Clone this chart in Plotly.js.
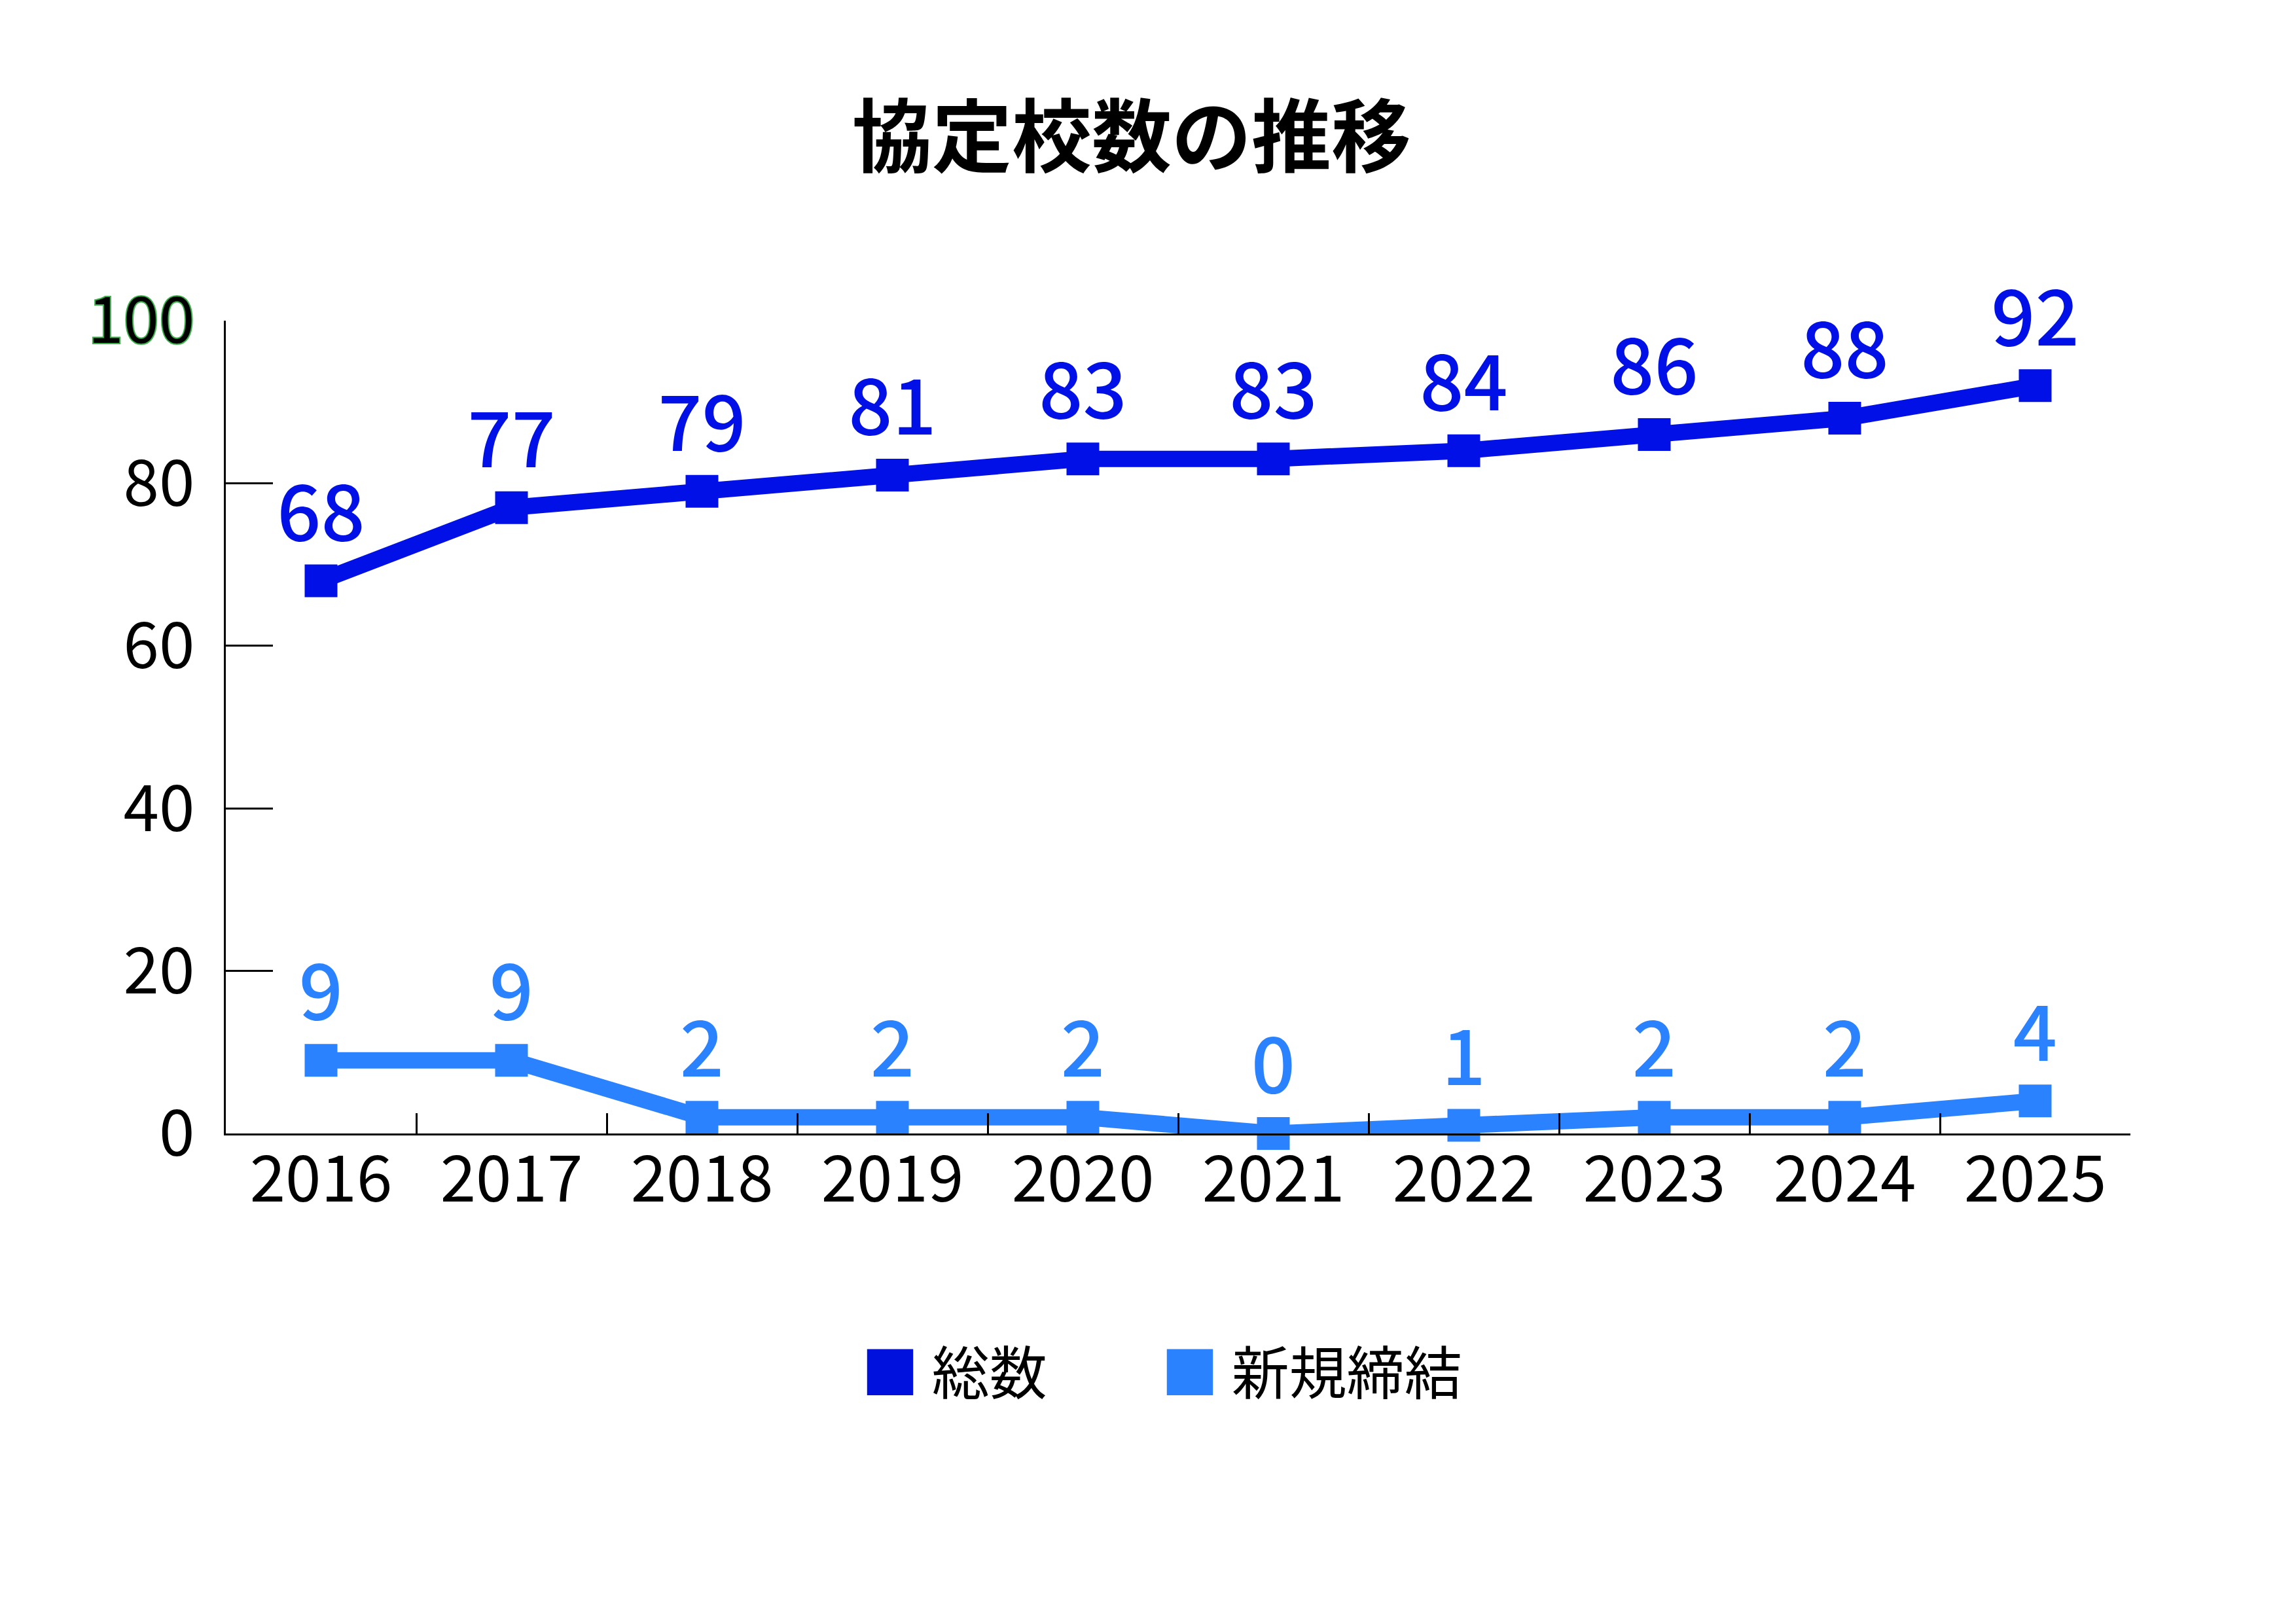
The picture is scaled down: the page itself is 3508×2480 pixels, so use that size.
<!DOCTYPE html>
<html>
<head>
<meta charset="utf-8">
<script src="https://cdn.plot.ly/plotly-3.0.1.min.js"></script>
<style>
  html, body { margin: 0; padding: 0; background: #ffffff; }
  #chart { width: 3508px; height: 2480px; }
</style>
</head>
<body>
<div id="chart"></div>
<script>
const years = ['2016', '2017', '2018', '2019', '2020', '2021', '2022', '2023', '2024', '2025'];
const totalCount = [68, 77, 79, 81, 83, 83, 84, 86, 88, 92];
const newCount = [9, 9, 2, 2, 2, 0, 1, 2, 2, 4];
const yTickVals = [0, 20, 40, 60, 80, 100];
const yTickText = ['0', '20', '40', '60', '80', '<span style="stroke:#3cb44b;stroke-width:4px;paint-order:stroke">100</span>'];
const seriesNames = ['総数', '新規締結'];
const titleText = '協定校数の推移';

const FONT = '"Noto Sans CJK JP", "Noto Sans", sans-serif';
const DARK = '#0010E6';
const LIGHT = '#2B82FF';
const DARK_LEGEND = '#0010DD';

const traces = [
  {
    type: 'scatter', mode: 'lines+markers+text',
    x: years, y: totalCount, name: seriesNames[0],
    text: totalCount.map(String), textposition: 'top center',
    textfont: { family: FONT, size: 118, color: DARK, weight: 500 },
    line: { color: DARK, width: 25 },
    marker: { symbol: 'square', size: 50, color: DARK },
    cliponaxis: false, showlegend: false, hoverinfo: 'skip'
  },
  {
    type: 'scatter', mode: 'lines+markers+text',
    x: years, y: newCount, name: seriesNames[1],
    text: newCount.map(String), textposition: 'top center',
    textfont: { family: FONT, size: 118, color: LIGHT, weight: 500 },
    line: { color: LIGHT, width: 25 },
    marker: { symbol: 'square', size: 50, color: LIGHT },
    cliponaxis: false, showlegend: false, hoverinfo: 'skip'
  },
  {
    type: 'scatter', mode: 'markers', x: [null], y: [null],
    name: '<span style="color:' + DARK_LEGEND + '">■</span> ' + seriesNames[0],
    marker: { color: 'rgba(0,0,0,0)', size: 2 }, showlegend: true, hoverinfo: 'skip',
    legendwidth: 413
  },
  {
    type: 'scatter', mode: 'markers', x: [null], y: [null],
    name: '<span style="color:' + LIGHT + '">■</span> ' + seriesNames[1],
    marker: { color: 'rgba(0,0,0,0)', size: 2 }, showlegend: true, hoverinfo: 'skip',
    legendwidth: 560
  }
];

const layout = {
  width: 3508, height: 2480,
  paper_bgcolor: '#ffffff', plot_bgcolor: '#ffffff',
  font: { family: FONT, color: '#000000' },
  margin: { l: 345, r: 253, t: 490, b: 748, pad: 0 },
  title: {
    text: titleText,
    font: { family: FONT, size: 122, color: '#000000', weight: 700 },
    xref: 'container', yref: 'container',
    x: 0.4929, xanchor: 'center', y: 0.9153, yanchor: 'middle'
  },
  xaxis: {
    type: 'category', range: [-0.5, 9.5],
    showline: true, linecolor: '#000000', linewidth: 3,
    ticks: 'inside', tickson: 'boundaries', ticklen: 31, tickwidth: 3, tickcolor: '#000000',
    showgrid: false, zeroline: false,
    tickfont: { family: FONT, size: 98, color: '#000000' },
    ticklabelstandoff: -17,
    fixedrange: true
  },
  yaxis: {
    range: [0, 100],
    tickmode: 'array', tickvals: yTickVals, ticktext: yTickText,
    showline: true, linecolor: '#000000', linewidth: 3,
    ticks: 'inside', ticklen: 72, tickwidth: 3, tickcolor: '#000000',
    showgrid: false, zeroline: false,
    tickfont: { family: FONT, size: 98, color: '#000000' },
    ticklabelstandoff: 25,
    fixedrange: true
  },
  showlegend: true,
  legend: {
    orientation: 'h',
    x: 0.3199, xanchor: 'left',
    y: -0.2931, yanchor: 'middle',
    font: { family: FONT, size: 88, color: '#000000' },
    itemwidth: 30,
    bgcolor: 'rgba(0,0,0,0)', borderwidth: 0
  }
};

Plotly.newPlot('chart', traces, layout, { staticPlot: true, displayModeBar: false });
</script>
</body>
</html>
